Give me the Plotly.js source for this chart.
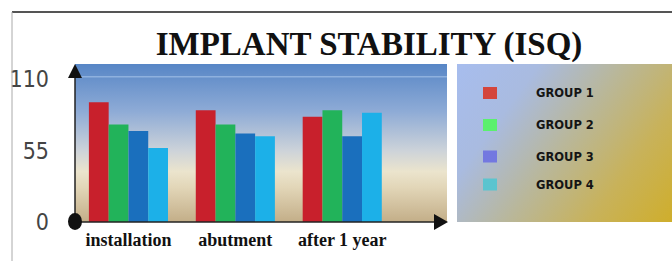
<!DOCTYPE html>
<html><head><meta charset="utf-8">
<script src="https://cdn.plot.ly/plotly-3.0.1.min.js"></script>
<style>html,body{margin:0;padding:0;background:#fff;}#chart{width:672px;height:261px;}</style>
</head><body><div id="chart"></div>
<script>
var categories = ["installation", "abutment", "after 1 year"];
var seriesNames = ["GROUP 1", "GROUP 2", "GROUP 3", "GROUP 4"];
var group1 = [92, 86, 81];
var group2 = [75, 75, 86];
var group3 = [70, 68, 66];
var group4 = [57, 66, 84];
var yTickVals = [0, 55, 110];
var yTickText = ["0", "55", "110"];

var barColors = ["#c8202c", "#22b35a", "#1a6fbd", "#1cb0e8"];
var legendColors = ["#d4453c", "#5bf06e", "#7378e0", "#5bc4cf"];
var seriesValues = [group1, group2, group3, group4];

var W = 672, H = 261, L = 75, R = 447, T = 64, B = 222;
function px(x){ return (x - L) / (R - L); }
function py(y){ return (B - y) / (B - T); }

function gradImg(w, h, fn){
  var c = document.createElement('canvas'); c.width = w; c.height = h;
  var ctx = c.getContext('2d'); fn(ctx, w, h); return c.toDataURL();
}
var plotBg = gradImg(372, 158, function(ctx, w, h){
  var g = ctx.createLinearGradient(0, 0, 0, h);
  g.addColorStop(0, '#5786c6');
  g.addColorStop(0.3, '#8eabd6');
  g.addColorStop(0.55, '#cdd3d9');
  g.addColorStop(0.68, '#ebe4cd');
  g.addColorStop(0.78, '#e2d6b8');
  g.addColorStop(1, '#c3ae88');
  ctx.fillStyle = g; ctx.fillRect(0, 0, w, h);
  ctx.fillStyle = 'rgba(170,200,235,0.6)'; ctx.fillRect(0, 12, w, 1.5);
});
var legBg = gradImg(215, 158, function(ctx, w, h){
  var g = ctx.createLinearGradient(0, 0, w, h);
  g.addColorStop(0, '#a7bdee');
  g.addColorStop(0.25, '#a9bbe0');
  g.addColorStop(0.5, '#b9b79a');
  g.addColorStop(0.75, '#c8b25a');
  g.addColorStop(1, '#cfae2c');
  ctx.fillStyle = g; ctx.fillRect(0, 0, w, h);
});

var traces = seriesValues.map(function(vals, i){
  return {type: 'bar', x: categories, y: vals, name: seriesNames[i],
          marker: {color: barColors[i], line: {width: 0}}, showlegend: false, hoverinfo: 'none'};
});

var shapes = [
  {type:'line', xref:'paper', yref:'paper', x0:px(12), x1:px(672), y0:py(12), y1:py(12), line:{color:'#555', width:2}},
  {type:'line', xref:'paper', yref:'paper', x0:px(12), x1:px(12), y0:py(12), y1:py(261), line:{color:'#aaa', width:1}},
  {type:'line', xref:'paper', yref:'paper', x0:px(75), x1:px(75), y0:py(222), y1:py(74), line:{color:'#222', width:1.5}},
  {type:'line', xref:'paper', yref:'paper', x0:px(75), x1:px(438), y0:py(222), y1:py(222), line:{color:'#222', width:1.5}},
  {type:'path', xref:'paper', yref:'paper', fillcolor:'#111', line:{width:0},
   path:'M '+px(75)+' '+py(64)+' L '+px(82)+' '+py(78)+' L '+px(68)+' '+py(78)+' Z'},
  {type:'path', xref:'paper', yref:'paper', fillcolor:'#111', line:{width:0},
   path:'M '+px(448)+' '+py(222)+' L '+px(434)+' '+py(214)+' L '+px(434)+' '+py(230)+' Z'},
  {type:'circle', xref:'paper', yref:'paper', fillcolor:'#111', line:{width:0},
   x0:px(68), x1:px(82), y0:py(213), y1:py(230)}
];

var annotations = [];
seriesNames.forEach(function(n, i){
  var cy = [93, 125, 156.5, 184.5][i];
  shapes.push({type:'rect', xref:'paper', yref:'paper', fillcolor:legendColors[i], line:{width:0},
    x0:px(483), x1:px(497), y0:py(cy-6), y1:py(cy+6)});
  annotations.push({xref:'paper', yref:'paper', x:px(534), y:py(cy), xanchor:'left', yanchor:'middle',
    text:'<b>'+n+'</b>', showarrow:false, font:{family:'DejaVu Sans, sans-serif', size:11.5, color:'#151515'}});
});

var layout = {
  width: W, height: H,
  margin: {l: L, r: W - R, t: T, b: H - B, pad: 0},
  paper_bgcolor: '#fff', plot_bgcolor: 'rgba(0,0,0,0)',
  barmode: 'group', bargap: 0.26, bargroupgap: 0,
  title: {text: '<b>IMPLANT STABILITY (ISQ)</b>', xref:'container', yref:'container',
          x: 369/W, xanchor:'center', y: 1 - 43/H, yanchor:'middle',
          font: {family: 'Liberation Serif, Times New Roman, serif', size: 33, color: '#111'}},
  xaxis: {range: [-0.5, 2.98], showgrid: false, zeroline: false, showline: false,
          ticks: '', ticklabelstandoff: 5,
          tickfont: {family: 'Liberation Serif, Times New Roman, serif', size: 18, color: '#111'},
          tickprefix: '<b>', ticksuffix: '</b>'},
  yaxis: {range: [0, 121.5], tickvals: yTickVals, ticktext: yTickText, showgrid: false,
          zeroline: false, showline: false, ticks: '', ticklabelstandoff: 25,
          tickfont: {family: 'Liberation Sans Narrow, DejaVu Sans Condensed, sans-serif', size: 23, color: '#444'}},
  images: [
    {source: plotBg, xref:'paper', yref:'paper', x:0, y:1, sizex:1, sizey:1, sizing:'stretch', layer:'below', xanchor:'left', yanchor:'top'},
    {source: legBg, xref:'paper', yref:'paper', x:px(457), y:py(64), sizex:215/372, sizey:1, sizing:'stretch', layer:'below', xanchor:'left', yanchor:'top'}
  ],
  shapes: shapes,
  annotations: annotations,
  showlegend: false
};

Plotly.newPlot('chart', traces, layout, {displayModeBar: false, staticPlot: true});
</script></body></html>
